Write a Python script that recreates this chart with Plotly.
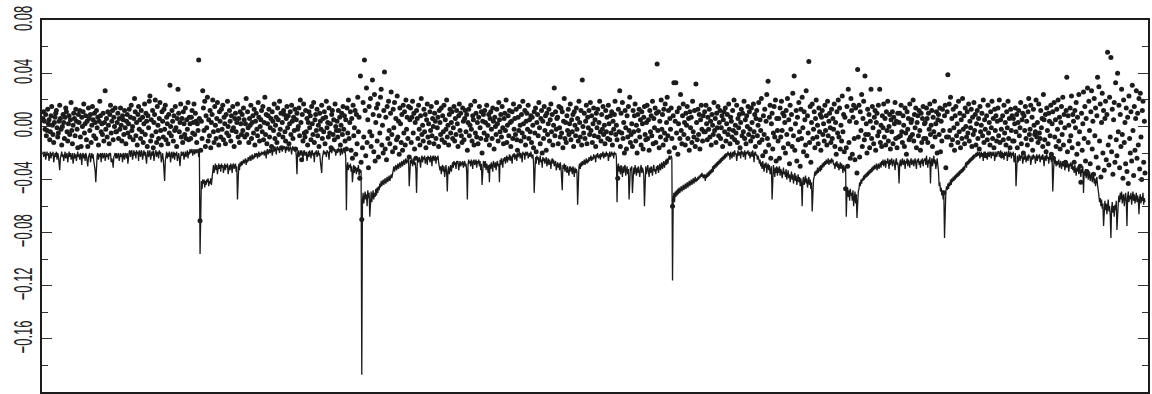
import plotly.graph_objects as go

# Daily portfolio returns and the 1-day Value-at-Risk estimate, stored in
# blocks of 110 consecutive trading days; values are in units of 0.001.
UNIT = 0.001

ret_01 = [6,11,4,-2,9,-7,-3,13,2,5, -10,-4,8,15,1,-6,-12,3,7,10, 12,-1,-8,-5,4,16,6,-2,-14,0,
          9,3,-9,7,14,11,-4,-11,2,8, -6,5,18,-3,-13,1,10,6,-7,13, 4,-2,-16,9,3,12,-8,-15,7,0,
          11,17,-5,2,8,-10,4,-15,14,6, -3,9,-12,1,15,5,-7,10,3,-9, 12,-1,7,-14,4,19,8,-4,2,-6,
          10,-11,3,27,-2,6,-8,11,1,-13, 9,16,-5,4,12,-10,7,0,14,-4]
ret_02 = [-4,3,10,-9,6,-2,14,1,-11,8, 5,-6,12,-1,-13,4,9,-5,2,13, -8,7,16,-3,0,-10,6,21,11,-7,
          3,-14,9,15,-2,5,-9,12,-4,7, -12,2,17,-6,10,4,-15,8,-1,19, 23,-11,5,-7,12,-16,3,9,20,-4,
          -12,15,1,-9,6,18,-3,-14,11,4, -8,13,-2,16,-10,7,2,-13,9,-5, 31,0,-7,12,4,-11,8,-3,15,-1,
          -15,6,28,10,-4,3,17,-8,6,-12, 11,2,-6,14,-9,5,-2,18,-10,7]
ret_03 = [2,-9,7,12,-5,3,17,-6,10,4, -12,2,-3,50,6,-71,-18,4,-9,27, 14,-3,19,-15,8,-1,22,-11,5,-7,
          12,-16,3,9,20,-4,-12,15,1,-9, 6,18,-3,-14,11,4,-8,13,-2,16, -10,7,2,-13,9,-5,19,0,-7,12,
          4,-11,8,-3,15,-1,-15,6,10,-4, 3,17,-8,6,-12,11,2,-6,9,-3, 14,5,-8,2,21,-6,11,-1,-12,6,
          1,16,-9,3,8,-5,13,-14,4,10, -2,-7,18,7,-11,0,5,12,-4,15]
ret_04 = [-10,3,22,-6,9,-13,2,8,13,-8, -1,6,-15,11,4,-3,17,-9,1,7, -12,14,5,-6,19,-2,10,-16,3,-8,
          12,9,-4,-11,6,15,-1,8,-13,2, 11,-6,16,4,-9,7,-3,13,-17,5, 10,-2,0,14,-7,20,3,-25,9,-11,
          17,-5,-8,12,-4,6,-14,3,11,-1, 8,-10,15,2,-6,18,-12,5,9,-3, 13,-7,1,-15,10,4,-2,16,-9,6,
          -4,11,-13,7,19,-1,3,-8,14,-5, 2,-16,9,12,-6,5,-10,17,0,-3]
ret_05 = [4,-8,12,-3,7,-14,1,10,-6,15, -2,8,-11,5,-17,14,-5,20,-9,3, 11,-18,6,-24,16,-7,-1,12,-21,9,
          -13,22,-4,7,-39,38,-27,-70,-16,18, -8,50,12,-22,29,-12,5,-31,15,-4, 21,-15,-7,35,9,-19,24,-26,3,14,
          -11,17,-23,8,-5,22,28,-14,1,-20, 12,41,-17,7,-25,15,-9,19,-3,-13, 10,26,-6,-19,13,-1,18,-16,6,-10,
          23,-8,4,-21,14,2,-12,9,-18,16, -5,11,-14,20,-2,7,-9,15,-23,5]
ret_06 = [14,-12,7,19,-5,10,-17,3,-24,12, 6,-9,16,-2,-14,8,21,-6,1,-11, 13,-4,9,-16,5,17,-8,2,-12,11,
          -3,15,-7,6,0,-13,10,4,-9,18, -1,7,-15,12,3,-6,14,-10,8,-4, 16,-12,5,-2,20,-8,1,-14,9,13,
          -5,3,11,-9,-1,15,-11,6,-6,12, 2,-15,8,17,-3,10,-7,-12,14,4, -10,6,12,-4,9,-18,3,13,-7,1,
          16,-2,-11,8,5,-14,19,-5,10,-8, 3,-13,7,15,-1,-9,11,-20,4,9]
ret_07 = [-5,12,3,-10,16,-7,1,9,-14,6, 11,-2,-9,14,4,-17,7,0,-6,13, 2,-11,18,5,-4,9,-8,15,-1,-13,
          6,10,-3,20,-12,1,8,-7,12,3, -15,4,11,-9,17,-2,6,-6,13,-10, -18,7,-3,15,1,-11,9,-5,19,2,
          -8,12,-14,4,10,-2,16,-9,5,-4, 8,-12,7,1,-16,11,-5,14,-19,3, 9,-7,18,-1,-13,6,12,-20,4,-9,
          15,-3,8,-18,10,-6,2,13,-11,5, 17,-4,9,-14,1,29,-7,11,-2,6]
ret_08 = [7,-13,15,-1,-8,14,-5,11,-16,4, 21,-9,3,-12,8,-3,13,-6,2,17, -10,5,-4,9,-15,11,1,-7,14,-2,
          6,-11,19,3,-8,12,-14,35,0,-5, 10,-9,4,16,-13,7,-1,12,-6,18, -3,8,-12,2,14,-7,5,-15,10,-1,
          13,-8,3,19,-4,-11,9,-2,15,-6, 1,-13,12,-4,7,-9,16,2,-10,8, -5,11,-14,4,-2,9,19,-6,1,-10,
          -39,13,-4,27,-15,10,-5,18,-9,3, -20,12,-1,-17,8,-8,15,-3,22,-12]
ret_09 = [-6,2,-15,12,-4,8,17,-11,1,-20, 9,-3,13,-8,5,-14,11,2,-17,7, 15,-6,-10,3,16,-9,5,-18,12,-4,
          8,-7,19,-13,6,-1,14,-12,10,47, -3,11,-16,4,-8,20,-2,9,-14,13, -5,17,-10,3,22,-7,12,-19,6,-2,
          14,-9,-60,8,33,-16,4,33,-5,11, -21,2,14,-9,24,-3,-13,8,17,-6, 3,-14,10,1,15,-9,6,-18,11,-1,
          7,-12,19,-4,-8,12,-15,32,3,-10, 13,-6,9,-17,5,16,-2,-11,8,-4]
ret_10 = [11,-4,16,2,-10,7,-2,13,-8,4, -14,9,1,-6,18,-3,6,-12,10,-1, 15,-7,3,12,-9,-1,8,-15,5,11,
          -4,14,-11,2,9,-6,17,-2,-13,7, 4,-8,12,-3,20,-10,1,-5,16,-12, 6,-1,9,-16,3,13,-7,10,-4,19,
          -9,5,-13,8,0,15,-6,11,-2,-11, 14,3,-8,17,-4,9,-15,6,12,-7, 1,18,-12,5,-3,21,-10,-22,8,-6,
          13,-19,4,24,-9,34,-14,7,16,-24, 2,10,-17,-5,15,-8,20,-26,6,-3]
ret_11 = [-11,6,-24,14,-8,19,-3,10,-16,8, 3,-20,12,-6,21,-13,5,-28,16,-2, 9,-15,25,-7,38,-18,2,12,-26,7,
          -10,18,-4,-30,13,-9,22,-1,-19,11, 5,-14,27,-22,8,-5,49,-12,15,-27, 3,17,-9,-2,11,-16,6,20,-8,1,
          -13,14,-4,9,-18,7,12,-6,2,-11, 16,-3,8,-14,19,-7,4,10,-1,-12, 13,-9,6,-2,17,-15,3,-21,11,-5,
          20,-8,14,-17,1,-11,23,-4,9,-19, 7,-47,-16,15,-30,28,-12,4,-24,21]
ret_12 = [12,-21,7,16,-9,-25,14,3,-35,43, -8,16,-23,11,-3,24,-15,6,19,-10, 38,-6,2,-20,13,-6,9,-16,4,28,
          -9,15,-1,-13,7,12,-18,3,10,-7, 16,-4,28,-12,1,-15,8,-1,17,-8, 6,-14,11,-3,19,-11,0,9,-17,5,
          -4,11,-13,7,2,18,-9,4,-16,10, -8,3,10,-7,16,-4,-12,8,1,-15, 14,-5,-21,11,-2,6,-10,17,-8,3,
          5,-6,20,-11,9,-1,14,-16,3,8, -7,12,-3,-18,10,-12,6,15,-9,2]
ret_13 = [3,-9,14,6,-12,10,-2,17,-6,1, 12,-15,7,-4,19,-8,2,11,-20,5, 9,-6,14,-19,4,-11,13,-3,-50,8,
          16,-31,-8,11,39,-8,17,-3,22,-14, 6,-10,13,-1,-18,8,15,-7,2,-12, 19,-4,10,-16,5,-9,21,-2,8,-13,
          14,0,-8,11,-5,17,-11,4,-1,13, -15,7,-6,18,-3,9,-14,2,12,-9, 6,-17,15,-4,1,10,-7,20,-12,5,
          -2,-22,8,-10,16,-5,3,-14,11,-1, 19,-9,6,-16,13,-3,8,-11,4,14]
ret_14 = [-7,20,-12,5,-2,-22,8,-10,16,-5, 3,-14,11,-1,19,-9,6,-16,13,-3, 8,-11,6,-11,2,14,-4,9,-16,3,
          12,-7,-1,18,-13,5,10,-20,8,-3, 15,-9,4,-14,11,21,-6,-2,16,-10, 7,-18,13,1,-6,-4,20,-8,3,-12,
          17,-5,-9,12,-1,6,-15,24,5,-10, 9,-19,14,-3,-13,10,4,-7,16,-21, 2,11,-24,18,-8,5,-15,13,-2,20,
          -11,7,-17,3,15,-6,22,-14,9,-1, -27,12,37,-19,8,1,-11,14,-7,23]
ret_15 = [-16,9,4,-27,12,-1,18,-21,7,-13, 24,-4,-30,-42,10,-18,2,26,-9,15, -26,6,-34,29,-12,19,-3,-28,11,27,
          -17,4,-36,21,-7,14,-23,8,37,-31, 30,-11,17,-38,3,25,-20,12,-33,6, 19,-25,9,56,-14,-29,22,-8,52,-19,
          13,-36,5,18,-27,33,-10,-22,40,-4, 16,-31,9,-15,28,-6,-39,20,-12,3, -28,14,-34,7,-43,23,-9,-20,11,-26,
          31,-3,-37,15,-18,6,27,-24,10,-14, 21,-32,25,-8,-40,12,19,-27,4,-35]

var_01 = [-19,-23,-20,-19,-25,-21,-19,-22,-20,-26, -21,-19,-24,-20,-22,-19,-27,-21,-20,-23,
          -19,-25,-20,-22,-28,-33,-24,-20,-19,-23, -21,-26,-20,-19,-24,-22,-20,-27,-21,-19,
          -23,-20,-25,-21,-20,-28,-22,-20,-24,-21, -26,-20,-19,-23,-21,-25,-20,-22,-29,-21,
          -20,-24,-21,-26,-20,-22,-25,-30,-23,-21, -20,-27,-22,-20,-24,-21,-26,-29,-33,-42,
          -28,-22,-20,-25,-21,-23,-20,-27,-21,-20, -24,-22,-20,-26,-21,-20,-23,-21,-25,-20,
          -22,-20,-27,-24,-26,-31,-23,-21,-20,-24]
var_02 = [-20,-24,-21,-20,-26,-22,-20,-23,-21,-27, -20,-22,-25,-20,-21,-24,-20,-28,-22,-19,
          -18,-23,-19,-18,-25,-20,-18,-22,-19,-24, -18,-21,-19,-26,-18,-20,-23,-18,-19,-25,
          -21,-18,-22,-19,-24,-28,-20,-18,-23,-19, -18,-25,-20,-19,-22,-18,-26,-21,-19,-18,
          -23,-20,-19,-24,-18,-21,-19,-27,-22,-20, -25,-33,-41,-26,-21,-19,-24,-20,-23,-19,
          -22,-27,-20,-19,-24,-21,-19,-25,-20,-22, -19,-26,-21,-20,-24,-30,-23,-19,-22,-20,
          -19,-25,-21,-19,-23,-20,-18,-24,-19,-21]
var_03 = [-17,-20,-18,-17,-22,-18,-17,-21,-19,-17, -20,-18,-17,-23,-19,-96,-44,-41,-47,-40,
          -43,-40,-46,-41,-44,-40,-42,-39,-45,-41, -43,-39,-44,-38,-33,-29,-35,-30,-28,-33,
          -29,-36,-30,-28,-32,-29,-34,-28,-31,-29, -35,-30,-28,-33,-29,-31,-28,-36,-30,-29,
          -33,-28,-30,-35,-29,-28,-32,-30,-28,-34, -30,-55,-31,-28,-33,-27,-30,-26,-29,-27,
          -25,-28,-26,-24,-29,-25,-27,-23,-26,-24, -22,-26,-23,-21,-25,-22,-24,-20,-23,-21,
          -20,-24,-21,-19,-23,-20,-22,-19,-21,-20]
var_04 = [-19,-22,-18,-20,-24,-18,-17,-21,-19,-17, -20,-17,-16,-22,-18,-16,-19,-15,-17,-21,
          -16,-15,-18,-16,-20,-15,-17,-16,-19,-15, -17,-15,-16,-20,-15,-18,-16,-15,-19,-16,
          -15,-17,-21,-16,-15,-18,-16,-19,-17,-22, -36,-20,-18,-23,-19,-18,-22,-18,-20,-25,
          -19,-18,-22,-20,-19,-26,-21,-19,-23,-18, -20,-24,-19,-18,-22,-20,-27,-19,-21,-18,
          -23,-19,-18,-22,-20,-26,-29,-35,-24,-19, -18,-21,-19,-20,-23,-18,-19,-20,-25,-18,
          -19,-17,-20,-17,-18,-16,-19,-17,-22,-18]
var_05 = [-17,-20,-16,-19,-17,-22,-16,-18,-21,-17, -16,-20,-18,-24,-63,-30,-27,-33,-29,-31,
          -28,-34,-30,-42,-31,-29,-35,-30,-32,-36, -31,-34,-29,-37,-32,-35,-33,-187,-56,-50,
          -58,-52,-49,-55,-51,-60,-48,-54,-50,-68, -53,-49,-57,-51,-48,-55,-50,-53,-47,-52,
          -46,-50,-45,-48,-43,-46,-41,-45,-42,-40, -44,-41,-39,-43,-40,-38,-42,-39,-37,-41,
          -38,-36,-39,-35,-33,-30,-34,-31,-29,-33, -30,-28,-32,-29,-27,-31,-28,-26,-30,-27,
          -25,-29,-26,-24,-28,-25,-27,-24,-45,-26]
var_06 = [-25,-28,-24,-30,-26,-24,-29,-27,-33,-50, -28,-24,-27,-23,-26,-31,-24,-22,-27,-23,
          -25,-22,-28,-24,-23,-29,-22,-25,-23,-27, -22,-24,-30,-23,-22,-26,-24,-22,-28,-23,
          -25,-22,-27,-29,-33,-30,-36,-31,-29,-34, -30,-38,-32,-29,-35,-49,-33,-30,-36,-31,
          -29,-34,-30,-27,-31,-26,-29,-27,-32,-26, -28,-26,-33,-27,-26,-30,-27,-29,-26,-31,
          -27,-26,-30,-28,-34,-55,-29,-25,-28,-26, -30,-25,-27,-32,-26,-25,-29,-27,-25,-31,
          -26,-28,-25,-30,-26,-33,-28,-44,-27,-26]
var_07 = [-27,-31,-26,-33,-28,-30,-35,-29,-42,-28, -32,-27,-30,-34,-26,-29,-31,-27,-33,-28,
          -26,-30,-28,-42,-25,-29,-24,-27,-31,-24, -26,-23,-28,-24,-22,-27,-23,-25,-21,-26,
          -22,-24,-28,-21,-23,-20,-25,-22,-21,-26, -20,-23,-21,-19,-24,-20,-22,-27,-19,-21,
          -20,-25,-19,-22,-20,-19,-24,-21,-20,-23, -19,-22,-24,-21,-27,-50,-26,-23,-28,-22,
          -25,-23,-29,-24,-22,-27,-25,-31,-23,-26, -24,-28,-25,-23,-30,-26,-24,-29,-25,-27,
          -32,-26,-24,-28,-25,-30,-27,-26,-33,-28]
var_08 = [-27,-31,-28,-33,-27,-30,-36,-48,-29,-32, -28,-34,-29,-31,-35,-30,-33,-37,-31,-30,
          -34,-31,-36,-30,-33,-38,-31,-35,-32,-34, -59,-33,-30,-28,-32,-27,-30,-26,-29,-27,
          -25,-29,-26,-24,-28,-25,-27,-23,-26,-24, -22,-26,-23,-25,-21,-24,-22,-27,-21,-23,
          -20,-24,-22,-21,-25,-20,-23,-21,-19,-24, -21,-20,-23,-19,-22,-20,-26,-21,-19,-23,
          -20,-19,-22,-20,-24,-19,-21,-20,-23,-57, -31,-28,-34,-30,-36,-29,-33,-38,-30,-35,
          -31,-29,-37,-33,-30,-36,-32,-55,-34,-31]
var_09 = [-33,-30,-50,-34,-31,-36,-29,-33,-37,-31, -35,-30,-34,-38,-32,-29,-35,-31,-33,-37,
          -60,-34,-30,-36,-32,-29,-34,-38,-31,-35, -30,-33,-37,-31,-29,-34,-32,-36,-30,-33,
          -29,-35,-31,-28,-33,-30,-27,-32,-29,-26, -31,-27,-25,-29,-24,-28,-23,-22,-25,-23,
          -22,-24,-116,-55,-50,-57,-49,-53,-48,-52, -47,-51,-46,-50,-48,-45,-49,-46,-44,-48,
          -45,-43,-47,-44,-42,-46,-43,-41,-45,-42, -40,-44,-41,-39,-43,-40,-38,-42,-39,-41,
          -38,-40,-37,-39,-36,-38,-35,-37,-39,-36]
var_10 = [-37,-41,-36,-39,-35,-38,-34,-37,-33,-36, -32,-35,-30,-34,-29,-32,-28,-31,-27,-30,
          -26,-29,-25,-28,-24,-27,-23,-26,-22,-25, -21,-24,-20,-23,-21,-19,-22,-20,-25,-19,
          -21,-24,-20,-19,-23,-18,-21,-20,-26,-19, -18,-22,-20,-19,-24,-18,-21,-19,-23,-20,
          -18,-25,-19,-21,-20,-18,-22,-19,-24,-20, -19,-23,-18,-21,-27,-20,-19,-22,-21,-25,
          -22,-24,-28,-25,-30,-27,-32,-26,-29,-34, -28,-31,-27,-35,-30,-28,-33,-29,-36,-31,
          -30,-55,-34,-29,-33,-38,-31,-35,-30,-37]
var_11 = [-31,-35,-30,-37,-32,-34,-39,-33,-31,-36, -34,-38,-32,-40,-35,-33,-39,-36,-42,-37,
          -34,-40,-36,-43,-38,-35,-41,-37,-44,-39, -36,-42,-38,-45,-39,-43,-60,-41,-38,-44,
          -40,-37,-43,-39,-46,-41,-38,-44,-40,-47, -42,-64,-45,-40,-38,-34,-37,-33,-36,-31,
          -35,-32,-30,-34,-29,-33,-28,-31,-27,-30, -26,-29,-25,-28,-27,-24,-29,-26,-25,-28,
          -24,-27,-25,-29,-28,-32,-27,-30,-26,-31, -28,-33,-29,-27,-32,-28,-30,-35,-29,-31,
          -34,-30,-68,-50,-46,-53,-48,-56,-47,-52]
var_12 = [-50,-56,-48,-60,-52,-49,-58,-51,-69,-54, -49,-47,-42,-45,-40,-43,-39,-41,-37,-40,
          -36,-39,-35,-38,-34,-37,-33,-36,-32,-35, -31,-34,-30,-33,-29,-32,-31,-28,-33,-30,
          -28,-32,-29,-27,-31,-26,-29,-25,-30,-27, -25,-31,-26,-28,-24,-27,-32,-25,-29,-26,
          -24,-30,-27,-25,-28,-33,-26,-24,-29,-27, -31,-43,-28,-25,-30,-26,-24,-29,-27,-25,
          -32,-26,-28,-24,-30,-25,-27,-31,-26,-24, -29,-26,-25,-30,-27,-24,-28,-32,-25,-27,
          -24,-29,-26,-31,-25,-28,-24,-30,-26,-25]
var_13 = [-24,-29,-22,-27,-31,-25,-28,-23,-43,-27, -24,-30,-26,-22,-28,-25,-32,-27,-24,-29,
          -34,-45,-42,-49,-46,-52,-48,-55,-50,-84, -53,-49,-45,-48,-43,-47,-42,-45,-40,-44,
          -39,-42,-38,-41,-37,-40,-36,-39,-35,-38, -34,-37,-33,-36,-32,-35,-31,-34,-30,-33,
          -29,-27,-31,-26,-29,-25,-28,-24,-27,-23, -26,-22,-25,-21,-24,-22,-20,-23,-19,-22,
          -20,-19,-24,-21,-19,-23,-20,-26,-19,-21, -19,-22,-20,-25,-19,-21,-23,-19,-20,-24,
          -19,-22,-20,-19,-26,-21,-19,-23,-20,-19]
var_14 = [-19,-23,-20,-18,-24,-19,-21,-20,-25,-19, -22,-20,-19,-26,-20,-18,-23,-21,-19,-24,
          -20,-22,-19,-27,-21,-20,-45,-24,-22,-27, -23,-21,-26,-22,-24,-21,-28,-23,-22,-25,
          -21,-27,-23,-22,-26,-21,-24,-22,-29,-23, -22,-25,-21,-24,-22,-28,-23,-21,-26,-22,
          -24,-21,-27,-23,-22,-25,-21,-24,-30,-23, -22,-26,-21,-24,-23,-28,-22,-25,-21,-27,
          -24,-49,-26,-23,-28,-25,-30,-26,-29,-27, -25,-31,-27,-26,-32,-28,-26,-30,-27,-33,
          -28,-26,-31,-27,-29,-34,-28,-30,-27,-32]
var_15 = [-28,-33,-30,-35,-29,-32,-37,-31,-34,-30, -36,-31,-33,-38,-32,-35,-30,-50,-34,-37,
          -32,-39,-35,-33,-40,-36,-34,-41,-37,-35, -42,-38,-36,-43,-39,-45,-40,-38,-44,-47,
          -52,-57,-54,-60,-55,-62,-58,-75,-61,-56, -63,-58,-66,-59,-55,-64,-60,-67,-84,-62,
          -57,-65,-60,-68,-59,-63,-56,-78,-61,-58, -52,-57,-50,-55,-49,-58,-53,-51,-60,-54,
          -50,-56,-75,-53,-49,-57,-52,-55,-50,-59, -54,-49,-56,-51,-58,-53,-50,-57,-52,-55,
          -66,-54,-51,-58,-53,-56,-50,-59,-54,-57]

ret_blocks = [ret_01, ret_02, ret_03, ret_04, ret_05, ret_06, ret_07, ret_08,
              ret_09, ret_10, ret_11, ret_12, ret_13, ret_14, ret_15]
var_blocks = [var_01, var_02, var_03, var_04, var_05, var_06, var_07, var_08,
              var_09, var_10, var_11, var_12, var_13, var_14, var_15]
for k, (r_blk, v_blk) in enumerate(zip(ret_blocks, var_blocks)):
    assert len(r_blk) == 110 and len(v_blk) == 110, (k, len(r_blk), len(v_blk))

returns = [v * UNIT for blk in ret_blocks for v in blk]
var_est = [v * UNIT for blk in var_blocks for v in blk]
days = list(range(len(returns)))

INK = "#1c1c1c"

fig = go.Figure()
fig.add_trace(go.Scatter(
    x=days, y=var_est, mode="lines",
    line=dict(color="#1a1a1a", width=1.3),
    hoverinfo="skip",
))
fig.add_trace(go.Scatter(
    x=days, y=returns, mode="markers",
    marker=dict(symbol="circle", size=5, color=INK, line=dict(width=0)),
))

fig.update_layout(
    width=1152, height=394,
    margin=dict(l=42, r=2, t=20, b=2),
    paper_bgcolor="white", plot_bgcolor="white",
    showlegend=False,
)
fig.update_xaxes(
    range=[-1.5, len(days) + 3.5],
    showline=True, mirror=True, linecolor=INK, linewidth=2,
    showgrid=False, zeroline=False, showticklabels=False, ticks="",
)
fig.update_yaxes(
    range=[-0.20, 0.0802],
    tickmode="array",
    tickvals=[0.08, 0.04, 0.0, -0.04, -0.08, -0.12, -0.16],
    tickformat=".2f",
    ticks="inside", ticklen=10, tickwidth=1, tickcolor="#333333",
    minor=dict(tickmode="array",
               tickvals=[0.06, 0.02, -0.02, -0.06, -0.10, -0.14, -0.18],
               ticks="inside", ticklen=6, tickwidth=1, tickcolor="#333333",
               showgrid=False),
    showline=True, mirror="allticks", linecolor=INK, linewidth=2,
    showgrid=False, zeroline=False,
    tickangle=-90,
    ticklabelstandoff=4,
    tickfont=dict(family="Liberation Sans, Arial, sans-serif", size=13, color="#222222"),
)

# The axis labels are set in a tall, narrow face: widen each rotated label
# across the page (i.e. along the glyph height) and centre it in the left margin.
LABEL_STRETCH = 2.0
LABEL_CENTER_X = 22.5
post_js = """
(function () {
  var gd = document.getElementById('{plot_id}');
  var labels = gd.querySelectorAll('g.ytick text');
  labels.forEach(function (t) {
    var svg = t.ownerSVGElement;
    var inv = t.parentNode.getScreenCTM().inverse();
    var r = t.getBoundingClientRect();
    var sb = svg.getBoundingClientRect();
    var p = svg.createSVGPoint();
    p.x = r.left + r.width / 2; p.y = r.top + r.height / 2;
    var c = p.matrixTransform(inv);
    p.x = sb.left + %(cx)s; p.y = r.top + r.height / 2;
    var g = p.matrixTransform(inv);
    var old = t.getAttribute('transform') || '';
    t.setAttribute('transform',
      'translate(' + g.x + ',' + c.y + ') scale(%(k)s,1) translate(' + (-c.x) + ',' + (-c.y) + ') ' + old);
  });
})();
""" % {"cx": LABEL_CENTER_X, "k": LABEL_STRETCH}

fig.write_html("out.html", post_script=post_js)
